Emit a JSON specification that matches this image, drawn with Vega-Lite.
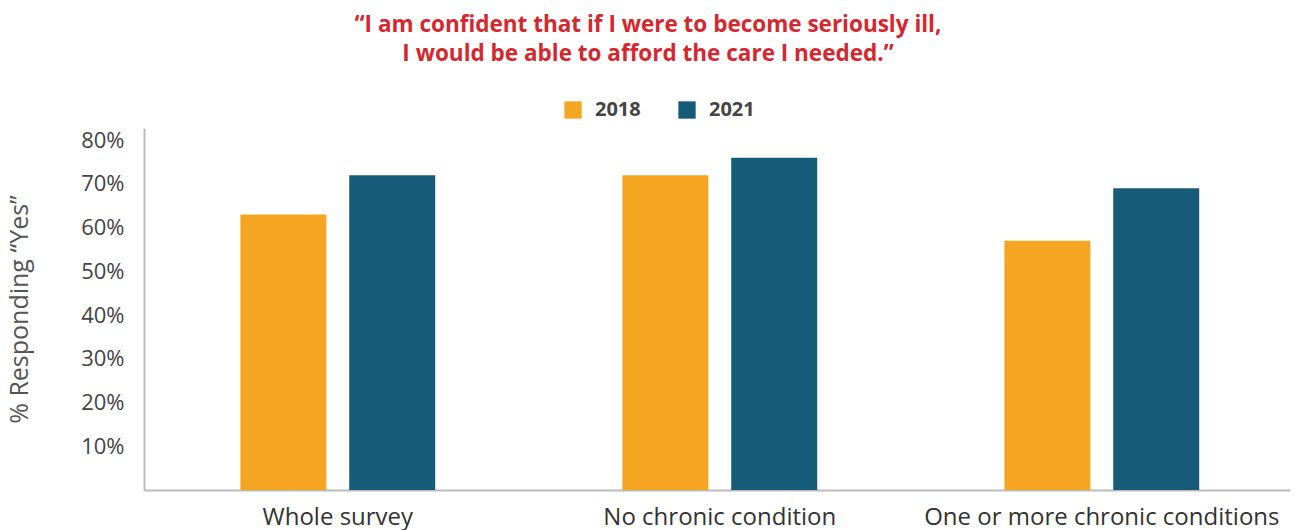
{
  "$schema": "https://vega.github.io/schema/vega-lite/v6.json",
  "autosize": "none",
  "width": 1146,
  "height": 362,
  "padding": {"left": 144, "top": 128, "right": 6, "bottom": 40},
  "background": "white",
  "title": {
    "text": ["“I am confident that if I were to become seriously ill,", "I would be able to afford the care I needed.”"],
    "font": "Open Sans",
    "fontSize": 22.5,
    "fontWeight": "bold",
    "color": "#D7262E",
    "lineHeight": 29,
    "anchor": "middle",
    "dx": -69,
    "offset": 35
  },
  "data": {
    "values": [
      {"group": "Whole survey", "year": "2018", "value": 0.63},
      {"group": "Whole survey", "year": "2021", "value": 0.72},
      {"group": "No chronic condition", "year": "2018", "value": 0.72},
      {"group": "No chronic condition", "year": "2021", "value": 0.76},
      {"group": "One or more chronic conditions", "year": "2018", "value": 0.57},
      {"group": "One or more chronic conditions", "year": "2021", "value": 0.69}
    ]
  },
  "mark": {"type": "bar"},
  "encoding": {
    "x": {
      "field": "group",
      "type": "nominal",
      "sort": null,
      "scale": {"paddingInner": 0.49, "paddingOuter": 0.245, "align": 0.515},
      "axis": {
        "title": null,
        "labelAngle": 0,
        "labelFont": "Open Sans",
        "labelFontSize": 24,
        "labelColor": "#333333",
        "labelPadding": 15,
        "labelLimit": 0,
        "ticks": false,
        "domainColor": "#BBBBBB",
        "domainWidth": 2
      }
    },
    "xOffset": {
      "field": "year",
      "type": "nominal",
      "scale": {"paddingInner": 0.21, "paddingOuter": 0}
    },
    "y": {
      "field": "value",
      "type": "quantitative",
      "scale": {"domain": [0, 0.828], "nice": false},
      "axis": {
        "title": "% Responding “Yes”",
        "titleFont": "Open Sans",
        "titleFontSize": 25,
        "titleFontWeight": "normal",
        "titleColor": "#555555",
        "titlePadding": 48,
        "values": [0.1, 0.2, 0.3, 0.4, 0.5, 0.6, 0.7, 0.8],
        "format": ".0%",
        "labelFont": "Open Sans",
        "labelFontSize": 22,
        "labelColor": "#444444",
        "labelPadding": 20,
        "ticks": false,
        "grid": false,
        "domainColor": "#BBBBBB",
        "domainWidth": 2
      }
    },
    "color": {
      "field": "year",
      "type": "nominal",
      "scale": {"domain": ["2018", "2021"], "range": ["#F4A623", "#165C78"]},
      "legend": {
        "title": null,
        "orient": "none",
        "legendX": 419,
        "legendY": -28,
        "direction": "horizontal",
        "symbolType": "square",
        "symbolSize": 300,
        "symbolStrokeWidth": 0,
        "labelFont": "Open Sans",
        "labelFontSize": 20,
        "labelFontWeight": "bold",
        "labelColor": "#444444",
        "columnPadding": 36,
        "labelOffset": 12
      }
    }
  },
  "config": {"view": {"stroke": null}}
}
